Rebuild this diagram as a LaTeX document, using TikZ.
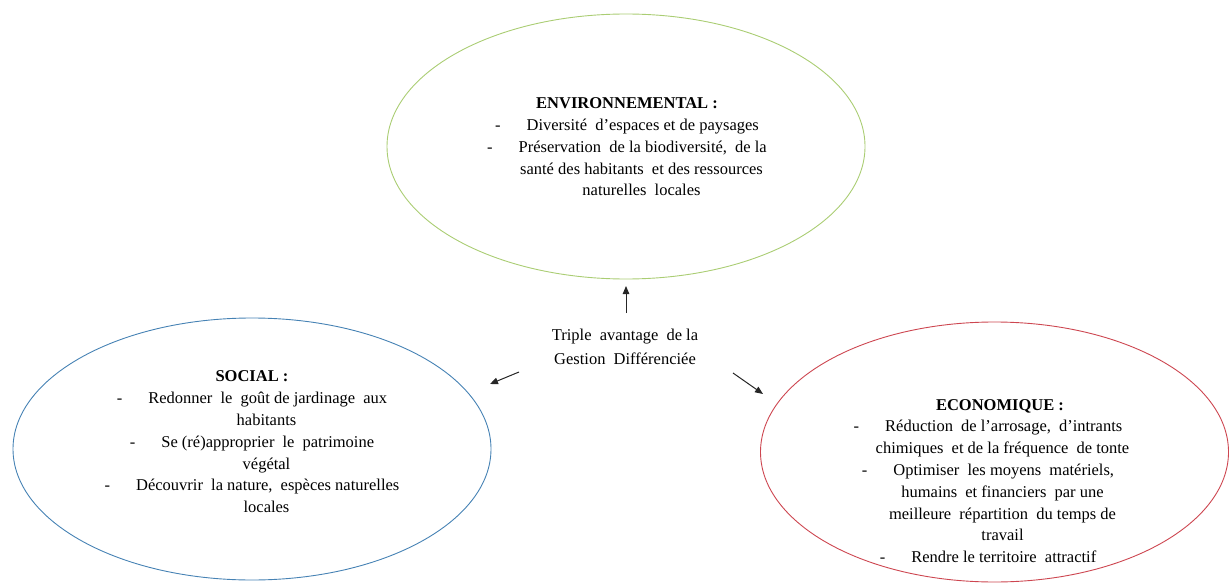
\documentclass[tikz,border=0pt]{standalone}
\usepackage{fontspec}
\setmainfont{Liberation Serif}
\usetikzlibrary{shapes.geometric,arrows.meta}
\definecolor{envgreen}{RGB}{170,205,115}
\definecolor{socblue}{RGB}{70,130,180}
\definecolor{ecored}{RGB}{205,70,80}
\tikzset{
  bubble/.style={ellipse, draw, line width=0.9pt, inner sep=0pt},
  body/.style={align=center, font=\fontsize{16.5}{21.8}\selectfont, inner sep=0pt},
  link/.style={-{Triangle[length=8pt,width=6.5pt]}, line width=1pt, black!85},
}
\newcommand{\dsh}{-\hspace{26pt}}
\newcommand{\cont}{\hspace*{29pt}}
\newcommand{\xs}{\hspace{4pt}}
\begin{document}
\begin{tikzpicture}[x=1pt,y=-1pt]
\useasboundingbox (0,0) rectangle (1229,583);
% ellipses
\node[bubble, draw=envgreen, minimum width=478pt, minimum height=265pt] (env) at (626,146.5) {};
\node[bubble, draw=socblue, minimum width=478pt, minimum height=262pt] (soc) at (252,449) {};
\node[bubble, draw=ecored, minimum width=468pt, minimum height=260pt] (eco) at (994.5,452) {};
% texts
\node[body] (envt) at (627,147) {%
\textbf{ENVIRONNEMENTAL :}\\
\dsh Diversité\xs{} d'espaces et de paysages\\
\dsh Préservation\xs{} de la biodiversité,\xs{} de la\\
\cont santé des habitants\xs{} et des ressources\\
\cont naturelles\xs{} locales};
\node[body] (soct) at (252,442) {%
\textbf{SOCIAL :}\\
\dsh Redonner\xs{} le\xs{} goût de jardinage\xs{} aux\\
\cont habitants\\
\dsh Se (ré)approprier\xs{} le\xs{} patrimoine\\
\cont végétal\\
\dsh Découvrir\xs{} la nature,\xs{} espèces naturelles\\
\cont locales};
\node[body] (ecot) at (988,481) {%
\hspace*{24pt}\textbf{ECONOMIQUE :}\\
\dsh Réduction\xs{} de l'arrosage,\xs{} d'intrants\\
\cont chimiques\xs{} et de la fréquence\xs{} de tonte\\
\dsh Optimiser\xs{} les moyens\xs{} matériels,\\
\cont humains\xs{} et financiers\xs{} par une\\
\cont meilleure\xs{} répartition\xs{} du temps de\\
\cont travail\\
\dsh Rendre le territoire\xs{} attractif};
\node[body, font=\fontsize{16.5}{23.5}\selectfont] (center) at (625,347) {Triple\xs{} avantage\xs{} de la\\Gestion\xs{} Différenciée};
% arrows
\coordinate (upS) at (626,313);
\coordinate (upE) at (626,286);
\coordinate (lfS) at (519,372);
\coordinate (lfE) at (490,384);
\coordinate (rtS) at (733,373);
\coordinate (rtE) at (763,394);
\draw[link] (upS) -- (upE);
\draw[link] (lfS) -- (lfE);
\draw[link] (rtS) -- (rtE);
\end{tikzpicture}
\end{document}
